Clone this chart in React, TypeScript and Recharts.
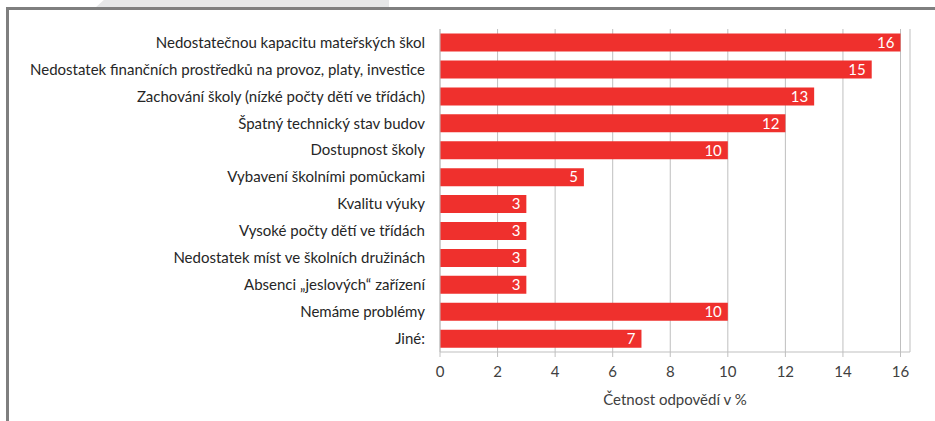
import React from 'react';
import {
  BarChart,
  Bar,
  XAxis,
  YAxis,
  CartesianGrid,
  LabelList,
  Label,
} from 'recharts';

// categories, top to bottom
const categories = [
  'Nedostatečnou kapacitu mateřských škol',
  'Nedostatek finančních prostředků na provoz, platy, investice',
  'Zachování školy (nízké počty dětí ve třídách)',
  'Špatný technický stav budov',
  'Dostupnost školy',
  'Vybavení školními pomůckami',
  'Kvalitu výuky',
  'Vysoké počty dětí ve třídách',
  'Nedostatek míst ve školních družinách',
  'Absenci „jeslových“ zařízení',
  'Nemáme problémy',
  'Jiné:',
];

const values = [16, 15, 13, 12, 10, 5, 3, 3, 3, 3, 10, 7];

const xTicks = [0, 2, 4, 6, 8, 10, 12, 14, 16];

const axisTitle = 'Četnost odpovědí v %';

const data = categories.map((name, i) => ({ name, value: values[i] }));

const FONT = 'Lato, "Open Sans", sans-serif';
const BAR_COLOR = '#EF302D';
const GRID = '#BFBFBF';
const FRAME = '#7F7F7F';

export default function App() {
  return (
    <div
      style={{
        position: 'absolute',
        left: 0,
        top: 0,
        width: 935,
        height: 421,
        background: '#fff',
        fontFamily: FONT,
        overflow: 'hidden',
      }}
    >
      {/* light tab above the frame */}
      <div
        style={{
          position: 'absolute',
          left: 95,
          top: 0,
          width: 294,
          height: 8,
          background: '#E6E7E8',
          clipPath: 'polygon(3% 0, 100% 0, 100% 100%, 0 100%)',
        }}
      />
      {/* frame */}
      <div
        style={{
          position: 'absolute',
          left: 6,
          top: 7,
          width: 935,
          height: 430,
          borderTop: `3px solid ${FRAME}`,
          borderLeft: `3px solid ${FRAME}`,
        }}
      />
      <div style={{ position: 'absolute', left: 0, top: 0 }}>
        <BarChart
          width={935}
          height={421}
          data={data}
          layout="vertical"
          margin={{ top: 29, right: 25, left: 0, bottom: 0 }}
          barCategoryGap="17%"
        >
          <CartesianGrid horizontal={false} vertical stroke={GRID} strokeWidth={1} />
          <XAxis
            type="number"
            domain={[0, 16.33]}
            ticks={xTicks}
            interval={0}
            allowDataOverflow
            height={69}
            axisLine={{ stroke: GRID }}
            tickLine={{ stroke: GRID }}
            tickSize={5}
            tickMargin={9}
            tick={{ fill: '#404040', fontSize: 15, fontFamily: FONT }}
          >
            <Label
              value={axisTitle}
              position="insideBottom"
              offset={16}
              style={{ fill: '#404040', fontSize: 15, fontFamily: FONT }}
            />
          </XAxis>
          <XAxis
            xAxisId="top"
            orientation="top"
            type="number"
            domain={[0, 16.33]}
            height={0}
            tick={false}
            tickLine={false}
            axisLine={{ stroke: GRID }}
          />
          <YAxis
            type="category"
            dataKey="name"
            width={440}
            interval={0}
            axisLine={{ stroke: GRID }}
            tickLine={false}
            tickSize={6}
            tickMargin={9}
            tick={{ fill: '#262626', fontSize: 15, fontFamily: FONT }}
          />
          <Bar dataKey="value" fill={BAR_COLOR} isAnimationActive={false}>
            <LabelList
              dataKey="value"
              position="insideRight"
              offset={6}
              style={{ fill: '#fff', fontSize: 15, fontFamily: FONT }}
            />
          </Bar>
        </BarChart>
      </div>
    </div>
  );
}
